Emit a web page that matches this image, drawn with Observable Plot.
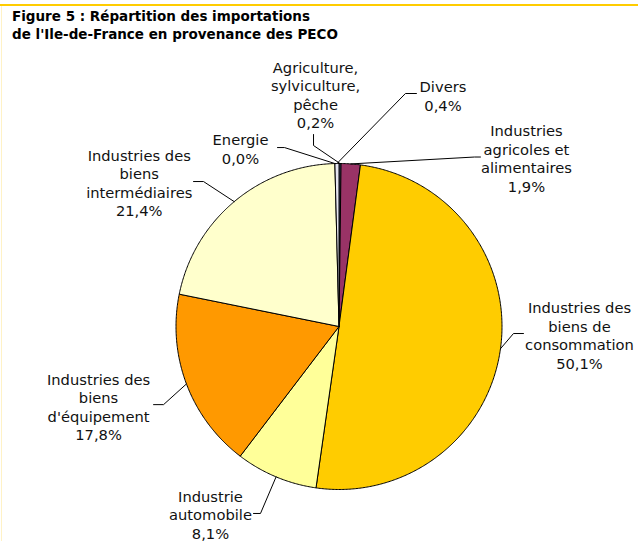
<!DOCTYPE html>
<html><head><meta charset="utf-8">
<script src="https://cdn.jsdelivr.net/npm/d3@7"></script>
<script src="https://cdn.jsdelivr.net/npm/@observablehq/plot@0.6"></script>
<style>
body{margin:0;background:#fff;}
#frame{position:relative;width:638px;height:541px;overflow:hidden;background:#fff;}
#topline{position:absolute;left:0;top:4px;width:638px;height:2px;background:#FFCC00;}
#leftline{position:absolute;left:1px;top:6px;width:1px;height:535px;background:#FFF2C6;}
#title{position:absolute;left:12px;top:7px;font-family:"DejaVu Sans",Verdana,sans-serif;font-weight:bold;font-size:13.5px;line-height:18px;color:#000;white-space:nowrap;}
#chart{position:absolute;left:0;top:45px;}
</style></head><body>
<div id="frame">
<div id="topline"></div><div id="leftline"></div>
<div id="title">Figure 5 : Répartition des importations<br>de l'Ile-de-France en provenance des PECO</div>
<div id="chart"></div>
</div>
<script>
// ---- data ----
const categories = [
  "Agriculture,\nsylviculture,\npêche",
  "Industries\nagricoles et\nalimentaires",
  "Industries des\nbiens de\nconsommation",
  "Industrie\nautomobile",
  "Industries des\nbiens\nd'équipement",
  "Industries des\nbiens\nintermédiaires",
  "Energie",
  "Divers"
];
const values = [0.2, 1.9, 50.1, 8.1, 17.8, 21.4, 0.0, 0.4];
const colors = ["#5C6699", "#993366", "#FFCC00", "#FFFF99", "#FF9900", "#FFFFCC", "#CCCCCC", "#E6E6F2"];

// ---- layout (pixel nudges, not data) ----
// label: offset of label centre from slice anchor point; elbow/end: leader points relative to label centre
const labelLayout = [
  {label:[-24.5,-69], elbow:[-2,51], end:[-2,40]},
  {label:[175.7,-5.9], elbow:[-52,-1], end:[-46,-1]},
  {label:[79,-13.7], elbow:[-66,-1.5], end:[-56,-1.5]},
  {label:[-65.6,37.6], elbow:[50,-1], end:[43,-1]},
  {label:[-87.9,22.7], elbow:[65,-2], end:[55,-2]},
  {label:[-95,-19.1], elbow:[64.3,-1], end:[54.3,-1]},
  {label:[-94.4,-15], elbow:[44,-1], end:[37,-1]},
  {label:[106,-68], elbow:[-37.5,-2], end:[-26.5,-2]}
];

const W = 638, H = 496, TOP = 45;
const cx = 338.5, cy = 326, R = 163;
const fmt = v => v.toFixed(1).replace(".", ",") + "%";

const total = d3.sum(values);
let acc = 0;
const slices = categories.map((c, i) => {
  const a0 = acc / total * 2 * Math.PI; acc += values[i];
  const a1 = acc / total * 2 * Math.PI;
  return {c, i, v: values[i], a0, a1, mid: (a0 + a1) / 2, color: colors[i]};
});
const px = a => cx + R * Math.sin(a), py = a => cy - R * Math.cos(a);

const sliceMarks = slices.filter(s => s.v > 0).map(s => {
  const n = Math.max(2, Math.ceil((s.a1 - s.a0) / (Math.PI / 360)));
  const pts = [{x: cx, y: cy}];
  for (let k = 0; k <= n; k++) { const a = s.a0 + (s.a1 - s.a0) * k / n; pts.push({x: px(a), y: py(a)}); }
  pts.push({x: cx, y: cy});
  return Plot.line(pts, {x: "x", y: "y", fill: s.color, stroke: "#000", strokeWidth: 1, strokeLinejoin: "round"});
});

const labels = [], leaders = [];
slices.forEach((s, i) => {
  const L = labelLayout[i];
  const ax = px(s.mid), ay = py(s.mid);
  const lx = ax + L.label[0], ly = ay + L.label[1];
  labels.push({x: lx, y: ly, text: s.c + "\n" + fmt(s.v)});
  leaders.push({c: s.c, x: ax, y: ay});
  leaders.push({c: s.c, x: lx + L.elbow[0], y: ly + L.elbow[1]});
  leaders.push({c: s.c, x: lx + L.end[0], y: ly + L.end[1]});
});

const chart = Plot.plot({
  width: W, height: H,
  margin: 0,
  x: {domain: [0, W], range: [0, W], axis: null},
  y: {domain: [TOP, TOP + H], range: [0, H], axis: null},
  style: {background: "transparent", fontFamily: "'DejaVu Sans', Verdana, sans-serif"},
  marks: [
    ...sliceMarks,
    Plot.line(leaders, {x: "x", y: "y", z: "c", stroke: "#000", strokeWidth: 1}),
    Plot.text(labels, {x: "x", y: "y", text: "text", fontSize: 14.7, lineHeight: 1.26, textAnchor: "middle", lineAnchor: "middle", fill: "#111"})
  ]
});
document.getElementById("chart").appendChild(chart);
</script>
</body></html>
